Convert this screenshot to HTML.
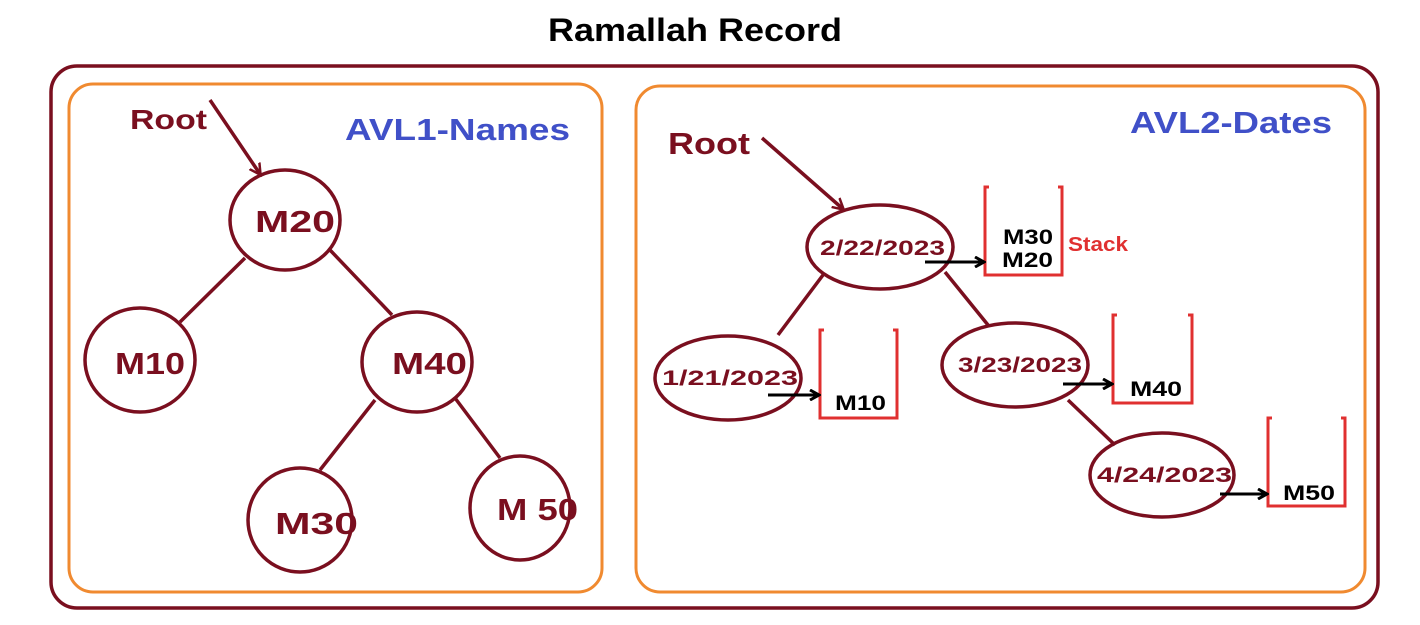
<!DOCTYPE html>
<html><head><style>
html,body{margin:0;padding:0;background:#fff;}
svg{display:block;}
text{font-family:"Liberation Sans",sans-serif;font-weight:bold;}
</style></head><body>
<svg width="1420" height="625" viewBox="0 0 1420 625" xmlns="http://www.w3.org/2000/svg">
<defs>
<marker id="ar" markerWidth="14" markerHeight="14" refX="10" refY="7" orient="auto" markerUnits="userSpaceOnUse"><path d="M0,1 L11,7 L0,13" fill="none" stroke="#7a0f1f" stroke-width="2.5"/></marker>
<marker id="ak" markerWidth="12" markerHeight="12" refX="10" refY="6" orient="auto" markerUnits="userSpaceOnUse"><path d="M1,1 L10,6 L1,11" fill="none" stroke="#000" stroke-width="3"/></marker>
</defs>
<text x="548" y="41" font-size="32" textLength="294" lengthAdjust="spacingAndGlyphs" fill="#000">Ramallah Record</text>
<rect x="51" y="66" width="1327" height="542" rx="26" fill="none" stroke="#7a0f1f" stroke-width="3.5"/>
<rect x="69" y="84" width="533" height="508" rx="24" fill="none" stroke="#f08a30" stroke-width="3"/>
<rect x="636" y="86" width="729" height="506" rx="24" fill="none" stroke="#f08a30" stroke-width="3"/>
<g stroke="#7a0f1f" stroke-width="3.5" fill="none">
<line x1="245" y1="258" x2="180" y2="322"/>
<line x1="330" y1="250" x2="392" y2="315"/>
<line x1="375" y1="400" x2="320" y2="470"/>
<line x1="455" y1="398" x2="500" y2="458"/>
<ellipse cx="285" cy="220" rx="55" ry="50"/>
<ellipse cx="140" cy="360" rx="55" ry="52"/>
<ellipse cx="417" cy="362" rx="55" ry="50"/>
<ellipse cx="300" cy="520" rx="52" ry="52"/>
<ellipse cx="520" cy="508" rx="50" ry="52"/>
<line x1="210" y1="100" x2="260" y2="174" marker-end="url(#ar)"/>
<line x1="823" y1="275" x2="778" y2="335"/>
<line x1="945" y1="272" x2="988" y2="325"/>
<line x1="1068" y1="400" x2="1115" y2="445"/>
<ellipse cx="880" cy="247" rx="73" ry="42"/>
<ellipse cx="728" cy="378" rx="73" ry="42"/>
<ellipse cx="1015" cy="365" rx="73" ry="42"/>
<ellipse cx="1162" cy="475" rx="72" ry="42"/>
<line x1="762" y1="138" x2="843" y2="209" marker-end="url(#ar)"/>
</g>
<g fill="#7a0f1f" lengthAdjust="spacingAndGlyphs">
<text x="130" y="129" font-size="28" textLength="77" lengthAdjust="spacingAndGlyphs">Root</text>
<text x="255" y="232" font-size="31" textLength="80" lengthAdjust="spacingAndGlyphs">M20</text>
<text x="115" y="374" font-size="31" textLength="70" lengthAdjust="spacingAndGlyphs">M10</text>
<text x="392" y="374" font-size="31" textLength="75" lengthAdjust="spacingAndGlyphs">M40</text>
<text x="275" y="534" font-size="31" textLength="83" lengthAdjust="spacingAndGlyphs">M30</text>
<text x="497" y="520" font-size="31" textLength="81" lengthAdjust="spacingAndGlyphs">M 50</text>
<text x="668" y="154" font-size="31" textLength="82" lengthAdjust="spacingAndGlyphs">Root</text>
<text x="820" y="255" font-size="21" textLength="125" lengthAdjust="spacingAndGlyphs">2/22/2023</text>
<text x="662" y="385" font-size="21" textLength="136" lengthAdjust="spacingAndGlyphs">1/21/2023</text>
<text x="958" y="372" font-size="21" textLength="124" lengthAdjust="spacingAndGlyphs">3/23/2023</text>
<text x="1097" y="482" font-size="21" textLength="135" lengthAdjust="spacingAndGlyphs">4/24/2023</text>
</g>
<text x="345" y="140" font-size="31" fill="#4050c8" textLength="225" lengthAdjust="spacingAndGlyphs">AVL1-Names</text>
<text x="1130" y="133" font-size="31" fill="#4050c8" textLength="202" lengthAdjust="spacingAndGlyphs">AVL2-Dates</text>
<g stroke="#e03030" stroke-width="3" fill="none">
<polyline points="989,187 985,187 985,275 1062,275 1062,187 1058,187"/>
<polyline points="824,330 820,330 820,418 897,418 897,330 893,330"/>
<polyline points="1117,315 1113,315 1113,403 1192,403 1192,315 1188,315"/>
<polyline points="1272,418 1268,418 1268,506 1345,506 1345,418 1341,418"/>
</g>
<g fill="#000">
<text x="1003" y="244" font-size="21" textLength="50" lengthAdjust="spacingAndGlyphs">M30</text>
<text x="1002" y="267" font-size="21" textLength="51" lengthAdjust="spacingAndGlyphs">M20</text>
<text x="835" y="410" font-size="21" textLength="51" lengthAdjust="spacingAndGlyphs">M10</text>
<text x="1130" y="396" font-size="21" textLength="52" lengthAdjust="spacingAndGlyphs">M40</text>
<text x="1283" y="500" font-size="21" textLength="52" lengthAdjust="spacingAndGlyphs">M50</text>
</g>
<text x="1068" y="251" font-size="20" fill="#e03030" textLength="60" lengthAdjust="spacingAndGlyphs">Stack</text>
<g stroke="#000" stroke-width="3">
<line x1="925" y1="262" x2="984" y2="262" marker-end="url(#ak)"/>
<line x1="768" y1="395" x2="819" y2="395" marker-end="url(#ak)"/>
<line x1="1063" y1="384" x2="1112" y2="384" marker-end="url(#ak)"/>
<line x1="1220" y1="494" x2="1267" y2="494" marker-end="url(#ak)"/>
</g>
</svg>
</body></html>
